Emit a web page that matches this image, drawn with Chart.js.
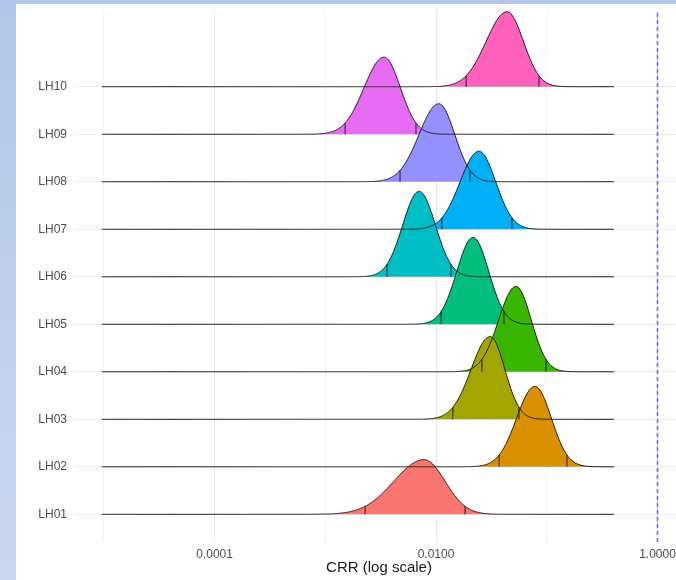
<!DOCTYPE html>
<html>
<head>
<meta charset="utf-8">
<title>CRR par site</title>
<script src="https://cdn.jsdelivr.net/npm/chart.js@4.4.1/dist/chart.umd.min.js"></script>
<style>
    html, body { margin: 0; padding: 0; overflow: hidden; }
    body { width: 676px; height: 580px; background: linear-gradient(to bottom, #b2c6e9, #cbd7ee); }
    #wrap { position: absolute; left: 16px; top: 4px; width: 668px; height: 576px; background: #fff; }
</style>
</head>
<body>
<div id="wrap"><canvas id="ridgeChart"></canvas></div>
<script>
// Données (CRR, échelle log)
const categories = ['LH01', 'LH02', 'LH03', 'LH04', 'LH05', 'LH06', 'LH07', 'LH08', 'LH09', 'LH10'];
const crrMode = [0.0078, 0.0783, 0.0308, 0.0527, 0.0216, 0.00703, 0.0244, 0.0106, 0.00339, 0.0438];
const crrLow = [0.00229, 0.0371, 0.0142, 0.0260, 0.0111, 0.00361, 0.0113, 0.00473, 0.00151, 0.0187];
const crrHigh = [0.0183, 0.1524, 0.0561, 0.0984, 0.0411, 0.01365, 0.0485, 0.0203, 0.00659, 0.0851];
const crrRange = [9.6e-6, 0.405];
const xTickValues = [1e-5, 1e-4, 1e-3, 1e-2, 1e-1, 1];
const xTickLabels = ['', '0.0001', '', '0.0100', '', '1.0000'];
const refLine = 1;
const colors = ['#F8766D', '#D89000', '#A3A500', '#39B600', '#00BF7D', '#00BFC4', '#00B0F6', '#9590FF', '#E76BF3', '#FF62BC'];

const Z = 1.96;          // quantiles 2.5 % / 97.5 %
const ridgeScale = 0.664;
const nPts = 512;
const yMin = 0.417, yMax = 11.615;
const xMin = 5.38e-6, xMax = 1.735;

function density(u, i) {
    const m = Math.log10(crrMode[i]);
    const sL = (m - Math.log10(crrLow[i])) / Z;
    const sR = (Math.log10(crrHigh[i]) - m) / Z;
    const s = u < m ? sL : sR;
    return 2 / (Math.sqrt(2 * Math.PI) * (sL + sR)) * Math.exp(-0.5 * Math.pow((u - m) / s, 2));
}

function buildDatasets() {
    const sets = [];
    const u0 = Math.log10(crrRange[0]);
    const u1 = Math.log10(crrRange[1]);

    categories.forEach((cat, i) => {
        const row = i + 1;
        const pts = [];
        for (let k = 0; k < nPts; k++) {
            const u = u0 + (u1 - u0) * k / (nPts - 1);
            pts.push({ x: Math.pow(10, u), y: row + ridgeScale * density(u, i) });
        }
        sets.push({
            label: cat,
            data: pts,
            order: i,
            borderColor: '#1e1e1e',
            borderWidth: 1,
            backgroundColor: colors[i],
            fill: { value: row },
            pointRadius: 0,
            tension: 0
        });
        // traits des quantiles
        [crrLow[i], crrHigh[i]].forEach(q => {
            sets.push({
                label: cat + ' q',
                data: [{ x: q, y: row }, { x: q, y: row + ridgeScale * density(Math.log10(q), i) }],
                order: -1,
                borderColor: '#1e1e1e',
                borderWidth: 1,
                fill: false,
                pointRadius: 0
            });
        });
    });

    sets.push({
        label: 'ref',
        data: [{ x: refLine, y: yMin }, { x: refLine, y: yMax }],
        order: -2,
        borderColor: '#6a6aff',
        borderWidth: 1.6,
        borderDash: [4, 3],
        fill: false,
        pointRadius: 0
    });
    return sets;
}

const ctx = document.getElementById('ridgeChart').getContext('2d');
new Chart(ctx, {
    type: 'line',
    data: { datasets: buildDatasets() },
    options: {
        responsive: true,
        maintainAspectRatio: false,
        animation: false,
        layout: { padding: { top: 6, left: 0, right: 0, bottom: 0 } },
        plugins: {
            legend: { display: false },
            tooltip: { enabled: false },
            filler: { drawTime: 'beforeDatasetsDraw' }
        },
        scales: {
            x: {
                type: 'logarithmic',
                min: xMin,
                max: xMax,
                afterBuildTicks: scale => { scale.ticks = xTickValues.map(v => ({ value: v })); },
                afterFit: scale => { scale.height = 38; },
                ticks: {
                    autoSkip: false,
                    maxRotation: 0,
                    padding: 5,
                    color: '#4d4d4d',
                    font: { family: 'Liberation Sans', size: 12 },
                    callback: (v, idx) => xTickLabels[idx]
                },
                grid: {
                    drawTicks: false,
                    color: c => (c.tick && xTickLabels[c.index] ? '#e8e8e8' : '#f1f1f1'),
                    lineWidth: 1
                },
                border: { display: false },
                title: {
                    display: true,
                    text: 'CRR (log scale)',
                    color: '#1a1a1a',
                    font: { family: 'Liberation Sans', size: 15 },
                    padding: { top: 0, bottom: 3 }
                }
            },
            y: {
                type: 'linear',
                min: yMin,
                max: yMax,
                afterBuildTicks: scale => { scale.ticks = categories.map((c, i) => ({ value: i + 1 })); },
                afterFit: scale => {
                    scale.width = 58;
                    scale.paddingTop = 0;
                    scale.paddingBottom = 0;
                },
                ticks: {
                    autoSkip: false,
                    padding: 7,
                    color: '#4d4d4d',
                    font: { family: 'Liberation Sans', size: 12 },
                    callback: v => categories[v - 1]
                },
                grid: { drawTicks: false, color: '#ebebeb', lineWidth: 1 },
                border: { display: false }
            }
        }
    }
});
</script>
</body>
</html>
